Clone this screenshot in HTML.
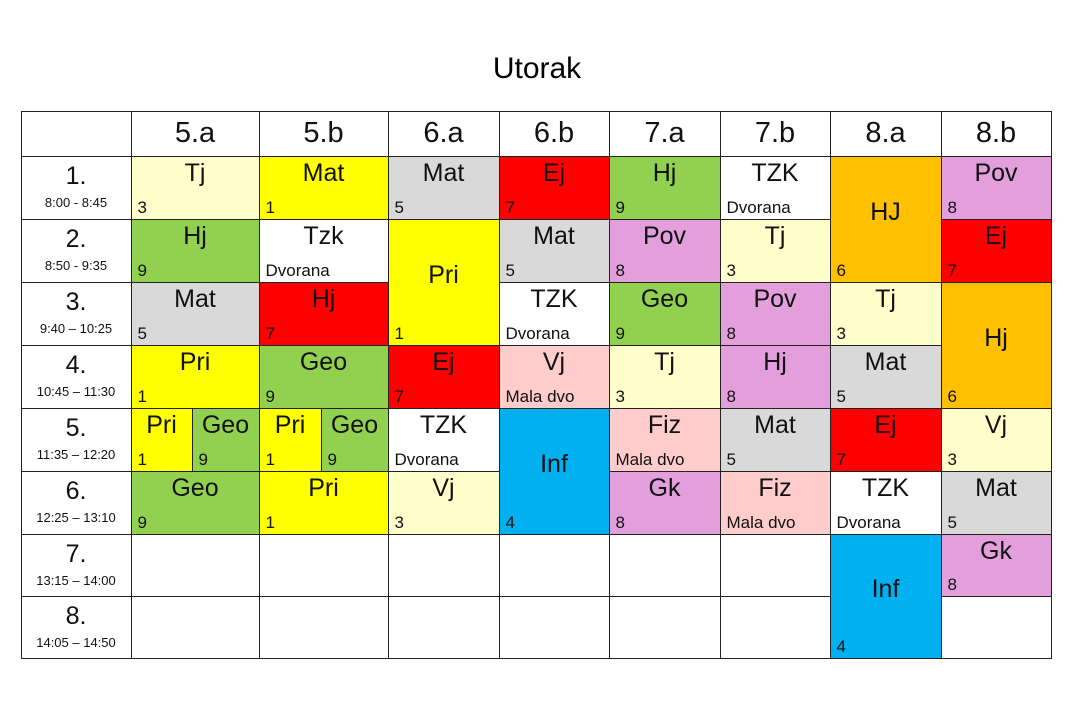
<!DOCTYPE html><html><head><meta charset="utf-8"><style>
body{margin:0;width:1090px;height:709px;background:#fff;font-family:"Liberation Sans",sans-serif;position:relative;overflow:hidden}
.c{position:absolute;box-sizing:border-box;border:1px solid #222;margin:-0.5px}
.m{position:absolute;left:0;right:0;text-align:center;font-size:25px;color:#111}
.s{position:absolute;left:6px;bottom:1px;font-size:17px;color:#111;white-space:nowrap}
.t{position:absolute;left:0;right:0;text-align:center;font-size:13px;color:#111}
</style></head><body>
<div style="position:absolute;left:0;width:1074px;top:52px;text-align:center;font-size:30px">Utorak</div>
<div id="g"></div>
<script>
var X=[21,131,259,388,499,609,720,830,941,1051],Y=[111,156,219,282,345,408,471,534,596,658];
var h='';
function cell(x0,x1,y0,y1,bg,m,s,merged){
 h+='<div class="c" style="left:'+x0+'px;top:'+y0+'px;width:'+(x1-x0+1)+'px;height:'+(y1-y0+1)+'px;background:'+bg+'">';
 if(m){var top=merged?((y1-y0)/2-22):2;h+='<div class="m" style="top:'+top+'px">'+m+'</div>';}
 if(s)h+='<div class="s">'+s+'</div>';
 h+='</div>';}
var C={ly:'#ffffcc',y:'#ffff00',g:'#d9d9d9',r:'#ff0000',gr:'#92d050',w:'#ffffff',o:'#ffc000',p:'#e29fdc',pk:'#ffcccc',b:'#00b0f0'};
// header
cell(X[0],X[1],Y[0],Y[1],'#fff');
var hd=['5.a','5.b','6.a','6.b','7.a','7.b','8.a','8.b'];
for(var i=0;i<8;i++){h+='<div class="c" style="left:'+X[i+1]+'px;top:'+Y[0]+'px;width:'+(X[i+2]-X[i+1]+1)+'px;height:'+(Y[1]-Y[0]+1)+'px"><div class="m" style="top:5px;font-size:29px">'+hd[i]+'</div></div>';}
var tm=['8:00 - 8:45','8:50 - 9:35','9:40 – 10:25','10:45 – 11:30','11:35 – 12:20','12:25 – 13:10','13:15 – 14:00','14:05 – 14:50'];
for(var r=0;r<8;r++){h+='<div class="c" style="left:'+X[0]+'px;top:'+Y[r+1]+'px;width:'+(X[1]-X[0]+1)+'px;height:'+(Y[r+2]-Y[r+1]+1)+'px"><div class="m" style="top:5px">'+(r+1)+'.</div><div class="t" style="top:38px">'+tm[r]+'</div></div>';}
function k(col,row,bg,m,s,span){cell(X[col],X[col+1],Y[row],Y[row+(span||1)],C[bg]||bg,m,s,span>1);}
// row1
k(1,1,'ly','Tj','3');k(2,1,'y','Mat','1');k(3,1,'g','Mat','5');k(4,1,'r','Ej','7');k(5,1,'gr','Hj','9');k(6,1,'w','TZK','Dvorana');k(7,1,'o','HJ','6',2);k(8,1,'p','Pov','8');
// row2
k(1,2,'gr','Hj','9');k(2,2,'w','Tzk','Dvorana');k(3,2,'y','Pri','1',2);k(4,2,'g','Mat','5');k(5,2,'p','Pov','8');k(6,2,'ly','Tj','3');k(8,2,'r','Ej','7');
// row3
k(1,3,'g','Mat','5');k(2,3,'r','Hj','7');k(4,3,'w','TZK','Dvorana');k(5,3,'gr','Geo','9');k(6,3,'p','Pov','8');k(7,3,'ly','Tj','3');k(8,3,'o','Hj','6',2);
// row4
k(1,4,'y','Pri','1');k(2,4,'gr','Geo','9');k(3,4,'r','Ej','7');k(4,4,'pk','Vj','Mala dvo');k(5,4,'ly','Tj','3');k(6,4,'p','Hj','8');k(7,4,'g','Mat','5');
// row5
cell(131,192,408,471,C.y,'Pri','1');cell(192,259,408,471,C.gr,'Geo','9');
cell(259,321,408,471,C.y,'Pri','1');cell(321,388,408,471,C.gr,'Geo','9');
k(3,5,'w','TZK','Dvorana');k(4,5,'b','Inf','4',2);k(5,5,'pk','Fiz','Mala dvo');k(6,5,'g','Mat','5');k(7,5,'r','Ej','7');k(8,5,'ly','Vj','3');
// row6
k(1,6,'gr','Geo','9');k(2,6,'y','Pri','1');k(3,6,'ly','Vj','3');k(5,6,'p','Gk','8');k(6,6,'pk','Fiz','Mala dvo');k(7,6,'w','TZK','Dvorana');k(8,6,'g','Mat','5');
// rows 7-8
for(var r=7;r<=8;r++)for(var c=1;c<=6;c++)k(c,r,'w');
k(7,7,'b','Inf','4',2);k(8,7,'p','Gk','8');k(8,8,'w');
document.getElementById('g').innerHTML=h;
</script></body></html>
